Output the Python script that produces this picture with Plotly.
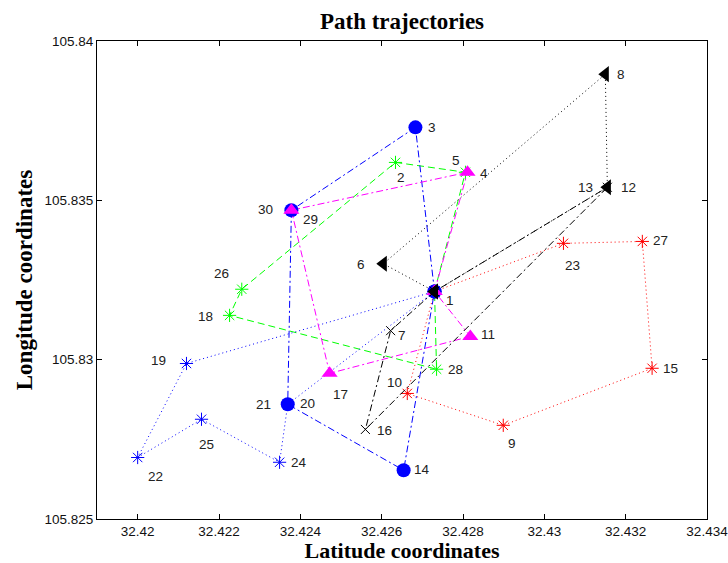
import plotly.graph_objects as go

# ---- data ----
node_ids = list(range(1, 31))
node_x = [32.4273, 32.42634, 32.42683, 32.42811, 32.42806, 32.42604, 32.42622, 32.4315,
          32.42899, 32.42663, 32.42818, 32.43155, 32.43155, 32.42654, 32.43265, 32.4256,
          32.42472, 32.42226, 32.4212, 32.42369, 32.42369, 32.42, 32.43047, 32.42349,
          32.42157, 32.42256, 32.43241, 32.42735, 32.42378, 32.42378]
node_y = [105.83214, 105.83619, 105.83729, 105.83588, 105.83588, 105.83301, 105.83091, 105.83896,
          105.82794, 105.82894, 105.83073, 105.83541, 105.83541, 105.82653, 105.82973, 105.82781,
          105.82957, 105.83139, 105.82988, 105.8286, 105.8286, 105.82693, 105.83365, 105.82678,
          105.82813, 105.83221, 105.83371, 105.8297, 105.83469, 105.83469]

route_green = [1, 5, 2, 26, 18, 28, 1]
route_blue_star = [1, 19, 22, 25, 24, 20, 1]
route_red = [1, 10, 9, 15, 27, 23, 1]
route_blue_circle = [1, 3, 30, 21, 14, 1]
route_magenta = [1, 4, 29, 17, 11, 1]
route_black_x = [1, 7, 16, 13, 1]
route_black_tri = [1, 6, 8, 12, 1]

x_tick_vals = [32.42, 32.422, 32.424, 32.426, 32.428, 32.43, 32.432, 32.434]
x_tick_text = ["32.42", "32.422", "32.424", "32.426", "32.428", "32.43", "32.432", "32.434"]
y_tick_vals = [105.825, 105.83, 105.835, 105.84]
y_tick_text = ["105.825", "105.83", "105.835", "105.84"]

# ---- styling ----
label_offsets = {  # pixel shifts (dx, dy) with dy positive = up
    1: (15, -9), 2: (6, -15), 3: (17, 0), 4: (17, -1), 5: (-9, 12), 6: (-22, -1),
    7: (11, -5), 8: (16, 0), 9: (9, -18), 10: (-13, 11), 11: (18, 2), 12: (21, 0),
    13: (-22, 0), 14: (18, 1), 15: (18, 0), 16: (19, -1), 17: (11, -21), 18: (-24, -1),
    19: (-28, 3), 20: (20, 1), 21: (-24, 0), 22: (18, -19), 23: (9, -22), 24: (19, 0),
    25: (5, -25), 26: (-20, 16), 27: (18, 1), 28: (19, 0), 29: (19, -9), 30: (-26, 1),
}

pos = {n: (x, y) for n, x, y in zip(node_ids, node_x, node_y)}

fig = go.Figure()

def add_route(route, color, dash, symbol, size, filled, lw=1):
    xs = [pos[n][0] for n in route]
    ys = [pos[n][1] for n in route]
    if filled:
        marker = dict(symbol=symbol, size=size, color=color, line=dict(width=0))
    else:
        marker = dict(symbol=symbol, size=size, color=color, line=dict(width=1, color=color))
    fig.add_trace(go.Scatter(x=xs, y=ys, mode="lines+markers",
                             line=dict(color=color, width=lw, dash=dash),
                             marker=marker, showlegend=False, hoverinfo="skip"))

DASHDOT = "7px,3px,2px,3px"
DASH = "7px,4px"
DOT = "1px,3px"

add_route(route_green, "#00ff00", DASH, "asterisk-open", 11, False)
add_route(route_blue_star, "#0000ff", DOT, "asterisk-open", 11, False)
add_route(route_red, "#ff0000", DOT, "asterisk-open", 11, False)
add_route(route_blue_circle, "#0000ff", DASHDOT, "circle", 14, True)
add_route(route_magenta, "#ff00ff", DASHDOT, "triangle-up", 14, True)
add_route(route_black_x, "#000000", DASHDOT, "x-thin-open", 9, False)
add_route(route_black_tri, "#000000", DOT, "triangle-left", 14, True)

for n in node_ids:
    dx, dy = label_offsets[n]
    fig.add_annotation(x=pos[n][0], y=pos[n][1], text=str(n), showarrow=False,
                       xshift=dx, yshift=dy,
                       font=dict(family="Liberation Sans, Arial", size=13.5, color="#222222"))

axis_common = dict(showline=True, linecolor="black", linewidth=1, mirror="ticks",
                   ticks="inside", ticklen=5, tickcolor="black", showgrid=False,
                   zeroline=False, automargin=False, ticklabeloverflow="allow",
                   tickfont=dict(family="Liberation Sans, Arial", size=13.5, color="#111"))

fig.update_xaxes(range=[32.419, 32.434], tickvals=x_tick_vals, ticktext=x_tick_text,
                 title=dict(text="<b>Latitude coordinates</b>", standoff=9,
                            font=dict(family="Liberation Serif, Times New Roman", size=22, color="black")),
                 **axis_common)
fig.update_yaxes(range=[105.825, 105.84], tickvals=y_tick_vals, ticktext=y_tick_text,
                 title=dict(text="<b>Longitude coordinates</b>", standoff=5,
                            font=dict(family="Liberation Serif, Times New Roman", size=23, color="black")),
                 **axis_common)

fig.update_layout(
    width=728, height=563,
    margin=dict(l=97, r=21, t=41, b=44),
    paper_bgcolor="white", plot_bgcolor="white",
    title=dict(text="<b>Path trajectories</b>", x=0.5, xanchor="center", y=1 - 21 / 563,
               yanchor="middle", xref="paper", yref="container",
               font=dict(family="Liberation Serif, Times New Roman", size=23, color="black")),
)

fig.write_html("out.html", config={"displayModeBar": False},
               post_script="document.body.style.margin='0';document.body.style.overflow='hidden';")
